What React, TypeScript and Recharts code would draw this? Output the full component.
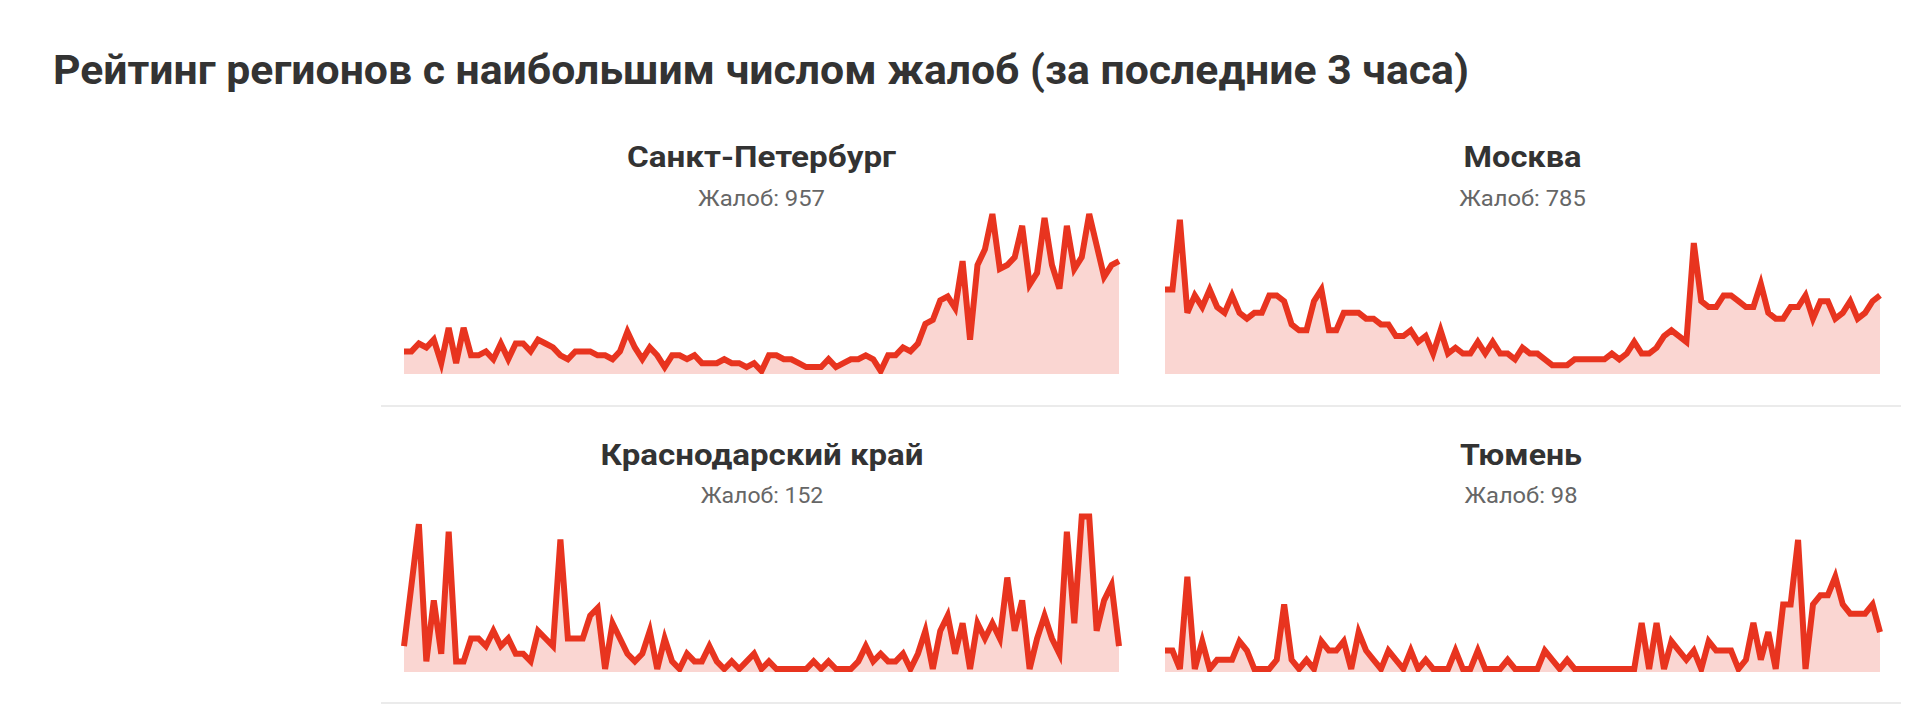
import React from 'react';
import { AreaChart, Area, XAxis, YAxis } from 'recharts';

const PAGE_TITLE = 'Рейтинг регионов с наибольшим числом жалоб (за последние 3 часа)';
const regions = ['Санкт-Петербург', 'Москва', 'Краснодарский край', 'Тюмень'];
const complaintTotals = [957, 785, 152, 98];

const spbSeries = [
  5, 5, 7, 6, 8, 2, 11, 2, 11, 4,
  4, 5, 3, 7, 3, 7, 7, 5, 8, 7,
  6, 4, 3, 5, 5, 5, 4, 4, 3, 5,
  10, 6, 3, 6, 4, 1, 4, 4, 3, 4,
  2, 2, 2, 3, 2, 2, 1, 2, 0,
  4, 4, 3, 3, 2, 1, 1, 1, 3, 1,
  2, 3, 3, 4, 3, 0, 4, 4, 6, 5,
  7, 12, 13, 18, 19, 16, 28, 8, 27, 31,
  40, 26, 27, 29, 37, 22, 25, 39, 27, 21,
  37, 26, 29, 40, 32, 24, 27, 28,
];

const moscowSeries = [
  14, 14, 26, 10, 13, 11, 14, 11, 10, 13,
  10, 9, 10, 10, 13, 13, 12, 8, 7, 7,
  12, 14, 7, 7, 10, 10, 10, 9, 9, 8,
  8, 6, 6, 7, 5, 6, 3, 7, 3, 4,
  3, 3, 5, 3, 5, 3, 3, 2, 4, 3,
  3, 2, 1, 1, 1, 2, 2, 2, 2, 2,
  3, 2, 3, 5, 3, 3, 4, 6, 7, 6,
  5, 22, 12, 11, 11, 13, 13, 12, 11, 11,
  15, 10, 9, 9, 11, 11, 13, 9, 12, 12,
  9, 10, 12, 9, 10, 12, 13,
];

const krasnodarSeries = [
  3, 11, 19, 1, 9, 2, 18, 1, 1, 4,
  4, 3, 5, 3, 4, 2, 2, 1, 5, 4,
  3, 17, 4, 4, 4, 7, 8, 0, 6, 4,
  2, 1, 2, 5, 0, 4, 1, 0, 2, 1,
  1, 3, 1, 0, 1, 0, 1, 2, 0,
  1, 0, 0, 0, 0, 0, 1, 0, 1, 0,
  0, 0, 1, 3, 1, 2, 1, 1, 2, 0,
  2, 5, 0, 5, 7, 2, 6, 0, 6, 4,
  6, 4, 12, 5, 9, 0, 4, 7, 4, 2,
  18, 6, 20, 20, 5, 9, 11, 3,
];

const tyumenSeries = [
  2, 2, 0, 10, 0, 3, 0, 1, 1, 1,
  3, 2, 0, 0, 0, 1, 7, 1, 0, 1,
  0, 3, 2, 2, 3, 0, 4, 2, 1, 0,
  2, 1, 0, 2, 0, 1, 0, 0, 0, 2,
  0, 0, 2, 0, 0, 0, 1, 0, 0, 0,
  0, 2, 1, 0, 1, 0, 0, 0, 0, 0,
  0, 0, 0, 0, 5, 0, 5, 0, 3, 2,
  1, 2, 0, 3, 2, 2, 2, 0, 1, 5,
  1, 4, 0, 7, 7, 14, 0, 7, 8, 8,
  10, 7, 6, 6, 6, 7, 4,
];

const seriesList = [spbSeries, moscowSeries, krasnodarSeries, tyumenSeries];
const yTops = [40, 27, 20.2, 16.7];

const LINE_COLOR = '#e8341f';
const PLOT_W = 715;
const ZERO_OFFSET = 3;

const panels = [
  { left: 404, plotTop: 214, plotH: 160, cx: 761.5, titleY: 167, subY: 205.5, titleW: 269, subW: 127 },
  { left: 1165, plotTop: 214, plotH: 160, cx: 1522.5, titleY: 167, subY: 205.5, titleW: 118, subW: 126.5 },
  { left: 404, plotTop: 515, plotH: 157, cx: 762, titleY: 465, subY: 503, titleW: 323, subW: 122.5 },
  { left: 1165, plotTop: 515, plotH: 157, cx: 1521, titleY: 465, subY: 503, titleW: 122, subW: 113 },
];

function Spark({ values, top, left, plotTop, plotH }: { values: number[]; top: number; left: number; plotTop: number; plotH: number }) {
  const data = values.map((v, i) => ({ slot: i, v }));
  const lo = -(top * ZERO_OFFSET) / (plotH - ZERO_OFFSET);
  const margin = { top: 10, right: 6, bottom: 0, left: 6 };
  return (
    <div style={{ position: 'absolute', left: left - margin.left, top: plotTop - margin.top }}>
      <AreaChart width={PLOT_W + margin.left + margin.right} height={plotH + margin.top} data={data} margin={margin}>
        <XAxis dataKey="slot" hide />
        <YAxis hide type="number" domain={[lo, top]} />
        <Area
          type="linear"
          dataKey="v"
          stroke={LINE_COLOR}
          strokeWidth={6}
          fill={LINE_COLOR}
          fillOpacity={0.2}
          baseValue="dataMin"
          dot={false}
          activeDot={false}
          isAnimationActive={false}
        />
      </AreaChart>
    </div>
  );
}

export default function App() {
  const font = 'Roboto, "Open Sans", sans-serif';
  return (
    <div style={{ position: 'absolute', left: 0, top: 0, width: 1928, height: 708, background: '#fff', overflow: 'hidden' }}>
      <svg width={1928} height={708} style={{ position: 'absolute', left: 0, top: 0 }}>
        <text x={53} y={84} fontFamily={font} fontWeight={700} fontSize={41} fill="#333333" textLength={1416} lengthAdjust="spacingAndGlyphs">
          {PAGE_TITLE}
        </text>
        {panels.map((p, i) => (
          <g key={i}>
            <text x={p.cx} y={p.titleY} textAnchor="middle" fontFamily={font} fontWeight={700} fontSize={29} fill="#333333" textLength={p.titleW} lengthAdjust="spacingAndGlyphs">
              {regions[i]}
            </text>
            <text x={p.cx} y={p.subY} textAnchor="middle" fontFamily={font} fontWeight={400} fontSize={22} fill="#666666" textLength={p.subW} lengthAdjust="spacingAndGlyphs">
              {`Жалоб: ${complaintTotals[i]}`}
            </text>
          </g>
        ))}
        <rect x={381} y={405} width={1520} height={2} fill="#ebebeb" />
        <rect x={381} y={702} width={1520} height={2} fill="#ebebeb" />
      </svg>
      {panels.map((p, i) => (
        <Spark key={i} values={seriesList[i]} top={yTops[i]} left={p.left} plotTop={p.plotTop} plotH={p.plotH} />
      ))}
    </div>
  );
}
